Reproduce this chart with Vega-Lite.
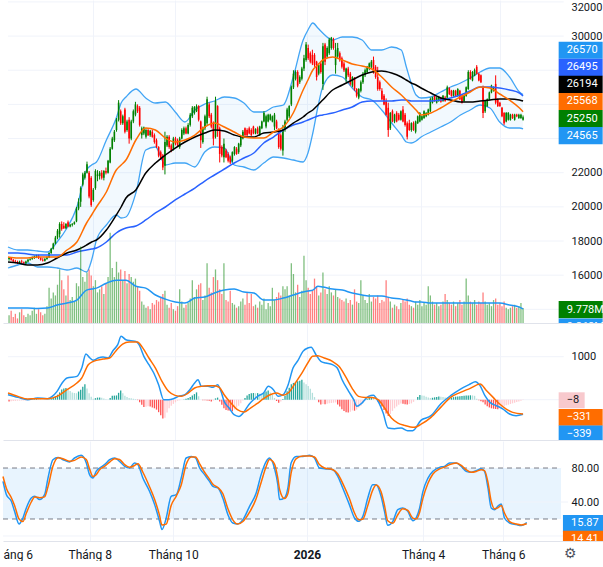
{
  "$schema": "https://vega.github.io/schema/vega-lite/v6.json",
  "padding": 0,
  "background": "#ffffff",
  "spacing": 1,
  "config": {
    "view": {"stroke": null},
    "font": "Roboto"
  },
  "datasets": {
    "candles": [
      {"i":0,"o":16950,"h":17050,"l":16850,"c":17000,"v":5,"mh":-39},
      {"i":1,"o":17000,"h":17050,"l":16850,"c":16900,"v":8,"mh":-35},
      {"i":2,"o":16900,"h":16950,"l":16750,"c":16800,"v":4,"mh":-30},
      {"i":3,"o":16800,"h":16900,"l":16700,"c":16750,"v":6,"mh":-28},
      {"i":4,"o":16750,"h":16850,"l":16650,"c":16700,"v":3,"mh":-24},
      {"i":5,"o":16700,"h":16850,"l":16650,"c":16800,"v":7,"mh":-22},
      {"i":6,"o":16800,"h":16900,"l":16700,"c":16750,"v":9,"mh":-20},
      {"i":7,"o":16750,"h":16800,"l":16600,"c":16700,"v":5,"mh":-18},
      {"i":8,"o":16700,"h":16850,"l":16650,"c":16800,"v":4,"mh":-16},
      {"i":9,"o":16800,"h":16950,"l":16750,"c":16900,"v":6,"mh":-14},
      {"i":10,"o":16900,"h":17000,"l":16850,"c":16950,"v":5,"mh":-5},
      {"i":11,"o":16950,"h":17100,"l":16900,"c":17050,"v":8,"mh":5},
      {"i":12,"o":17050,"h":17150,"l":16950,"c":17100,"v":10,"mh":12},
      {"i":13,"o":17100,"h":17200,"l":17000,"c":17150,"v":6,"mh":16},
      {"i":14,"o":17150,"h":17200,"l":16950,"c":17000,"v":9,"mh":12},
      {"i":15,"o":17000,"h":17050,"l":16850,"c":16900,"v":7,"mh":8},
      {"i":16,"o":16900,"h":17000,"l":16800,"c":16850,"v":5,"mh":4},
      {"i":17,"o":16850,"h":17000,"l":16800,"c":16950,"v":6,"mh":2},
      {"i":18,"o":16950,"h":17100,"l":16900,"c":17050,"v":11,"mh":0},
      {"i":19,"o":17050,"h":17350,"l":17000,"c":17300,"v":23,"mh":10},
      {"i":20,"o":17300,"h":17600,"l":17250,"c":17550,"v":16,"mh":28},
      {"i":21,"o":17550,"h":17900,"l":17500,"c":17850,"v":20,"mh":50},
      {"i":22,"o":17850,"h":18300,"l":17800,"c":18200,"v":18,"mh":80},
      {"i":23,"o":18200,"h":18700,"l":18100,"c":18600,"v":25,"mh":116},
      {"i":24,"o":18400,"h":19100,"l":18200,"c":19000,"v":35,"mh":170},
      {"i":25,"o":19000,"h":19150,"l":18600,"c":18700,"v":28,"mh":238},
      {"i":26,"o":18900,"h":19100,"l":18700,"c":18750,"v":22,"mh":260},
      {"i":27,"o":18750,"h":19050,"l":18700,"c":19000,"v":18,"mh":271},
      {"i":28,"o":19100,"h":19200,"l":18800,"c":18850,"v":31,"mh":240},
      {"i":29,"o":18850,"h":19000,"l":18800,"c":18950,"v":15,"mh":200},
      {"i":30,"o":18950,"h":19050,"l":18850,"c":19000,"v":17,"mh":170},
      {"i":31,"o":19000,"h":19150,"l":18950,"c":19100,"v":14,"mh":155},
      {"i":32,"o":19150,"h":20000,"l":19100,"c":19900,"v":26,"mh":150},
      {"i":33,"o":19900,"h":20500,"l":19800,"c":20300,"v":24,"mh":190},
      {"i":34,"o":20300,"h":21200,"l":20000,"c":21100,"v":50,"mh":232},
      {"i":35,"o":21300,"h":22000,"l":21200,"c":21900,"v":30,"mh":300},
      {"i":36,"o":21700,"h":22100,"l":21600,"c":22000,"v":27,"mh":362},
      {"i":37,"o":22000,"h":22650,"l":21950,"c":22500,"v":33,"mh":260},
      {"i":38,"o":22000,"h":22100,"l":20500,"c":20600,"v":35,"mh":150},
      {"i":39,"o":21700,"h":21800,"l":20000,"c":20100,"v":31,"mh":70},
      {"i":40,"o":20400,"h":21100,"l":20300,"c":21000,"v":24,"mh":24},
      {"i":41,"o":21100,"h":22200,"l":21000,"c":22100,"v":28,"mh":35},
      {"i":42,"o":21800,"h":22150,"l":21500,"c":21900,"v":20,"mh":49},
      {"i":43,"o":21800,"h":22100,"l":21600,"c":22000,"v":22,"mh":50},
      {"i":44,"o":22000,"h":22150,"l":21600,"c":21700,"v":24,"mh":46},
      {"i":45,"o":21700,"h":22150,"l":21550,"c":22100,"v":19,"mh":30},
      {"i":46,"o":22100,"h":22300,"l":21900,"c":22000,"v":26,"mh":10},
      {"i":47,"o":22000,"h":22750,"l":21950,"c":22700,"v":30,"mh":4},
      {"i":48,"o":22600,"h":23500,"l":22550,"c":23400,"v":59,"mh":40},
      {"i":49,"o":23400,"h":24100,"l":23350,"c":24000,"v":36,"mh":89},
      {"i":50,"o":23900,"h":24500,"l":23800,"c":24400,"v":30,"mh":95},
      {"i":51,"o":24500,"h":25200,"l":24400,"c":25100,"v":40,"mh":99},
      {"i":52,"o":25100,"h":26250,"l":25000,"c":26100,"v":33,"mh":160},
      {"i":53,"o":25600,"h":25700,"l":24800,"c":24900,"v":35,"mh":213},
      {"i":54,"o":24900,"h":25400,"l":24800,"c":25300,"v":28,"mh":150},
      {"i":55,"o":25700,"h":25800,"l":24300,"c":24400,"v":34,"mh":90},
      {"i":56,"o":24500,"h":25100,"l":24400,"c":25000,"v":26,"mh":60},
      {"i":57,"o":25100,"h":25250,"l":23700,"c":24000,"v":32,"mh":40},
      {"i":58,"o":24000,"h":25100,"l":23900,"c":25000,"v":30,"mh":31},
      {"i":59,"o":25000,"h":25700,"l":24900,"c":25600,"v":27,"mh":20},
      {"i":60,"o":25400,"h":26150,"l":25300,"c":26000,"v":29,"mh":15},
      {"i":61,"o":25900,"h":26000,"l":25500,"c":25600,"v":24,"mh":-10},
      {"i":62,"o":25800,"h":25900,"l":24700,"c":24800,"v":21,"mh":-60},
      {"i":63,"o":24200,"h":24700,"l":24000,"c":24600,"v":14,"mh":-120},
      {"i":64,"o":24300,"h":24700,"l":24200,"c":24650,"v":12,"mh":-172},
      {"i":65,"o":24100,"h":24600,"l":24000,"c":24500,"v":10,"mh":-165},
      {"i":66,"o":24500,"h":24600,"l":24150,"c":24200,"v":11,"mh":-155},
      {"i":67,"o":24200,"h":24500,"l":24100,"c":24450,"v":9,"mh":-160},
      {"i":68,"o":24400,"h":24500,"l":24050,"c":24100,"v":13,"mh":-180},
      {"i":69,"o":24200,"h":24300,"l":23700,"c":23800,"v":12,"mh":-200},
      {"i":70,"o":23900,"h":24000,"l":23450,"c":23500,"v":15,"mh":-231},
      {"i":71,"o":23500,"h":23550,"l":22900,"c":23000,"v":14,"mh":-290},
      {"i":72,"o":23200,"h":23300,"l":22750,"c":22800,"v":17,"mh":-360},
      {"i":73,"o":23000,"h":23100,"l":22150,"c":22300,"v":19,"mh":-440},
      {"i":74,"o":22400,"h":24400,"l":21900,"c":23800,"v":21,"mh":-420},
      {"i":75,"o":23600,"h":24200,"l":23500,"c":24100,"v":12,"mh":-300},
      {"i":76,"o":24100,"h":24200,"l":23400,"c":23500,"v":10,"mh":-200},
      {"i":77,"o":23600,"h":23700,"l":23200,"c":23300,"v":13,"mh":-140},
      {"i":78,"o":23400,"h":24100,"l":23300,"c":24000,"v":9,"mh":-97},
      {"i":79,"o":24000,"h":24100,"l":23600,"c":23700,"v":8,"mh":-60},
      {"i":80,"o":23900,"h":24000,"l":23500,"c":23600,"v":11,"mh":-25},
      {"i":81,"o":23500,"h":24100,"l":23400,"c":24000,"v":22,"mh":-10},
      {"i":82,"o":24000,"h":24600,"l":23950,"c":24500,"v":14,"mh":0},
      {"i":83,"o":24300,"h":24700,"l":24200,"c":24600,"v":10,"mh":6},
      {"i":84,"o":24600,"h":24700,"l":24250,"c":24300,"v":12,"mh":20},
      {"i":85,"o":24300,"h":24900,"l":24250,"c":24800,"v":13,"mh":40},
      {"i":86,"o":24800,"h":25500,"l":24700,"c":25400,"v":16,"mh":60},
      {"i":87,"o":25300,"h":25900,"l":25200,"c":25800,"v":28,"mh":100},
      {"i":88,"o":25500,"h":25900,"l":25400,"c":25850,"v":17,"mh":130},
      {"i":89,"o":25600,"h":26000,"l":25550,"c":25900,"v":22,"mh":170},
      {"i":90,"o":25900,"h":25950,"l":25000,"c":25100,"v":25,"mh":80},
      {"i":91,"o":25000,"h":25050,"l":23450,"c":23900,"v":26,"mh":0},
      {"i":92,"o":23800,"h":24700,"l":23700,"c":24600,"v":15,"mh":-10},
      {"i":93,"o":24600,"h":25400,"l":24500,"c":25300,"v":18,"mh":-15},
      {"i":94,"o":24900,"h":26450,"l":24800,"c":26300,"v":39,"mh":-16},
      {"i":95,"o":26000,"h":26100,"l":25200,"c":25300,"v":23,"mh":-25},
      {"i":96,"o":25400,"h":25500,"l":24600,"c":24700,"v":20,"mh":-39},
      {"i":97,"o":24900,"h":25000,"l":23600,"c":24000,"v":30,"mh":-20},
      {"i":98,"o":24100,"h":26450,"l":24000,"c":26200,"v":35,"mh":30},
      {"i":99,"o":25900,"h":25950,"l":24100,"c":24500,"v":28,"mh":49},
      {"i":100,"o":24600,"h":24700,"l":22600,"c":23100,"v":22,"mh":-40},
      {"i":101,"o":23500,"h":23600,"l":22900,"c":23000,"v":19,"mh":-120},
      {"i":102,"o":22900,"h":24000,"l":22600,"c":23700,"v":39,"mh":-200},
      {"i":103,"o":23300,"h":23400,"l":22850,"c":22900,"v":15,"mh":-240},
      {"i":104,"o":23100,"h":23200,"l":22600,"c":22700,"v":14,"mh":-250},
      {"i":105,"o":22900,"h":23000,"l":22500,"c":22600,"v":21,"mh":-260},
      {"i":106,"o":22700,"h":23250,"l":22600,"c":23200,"v":13,"mh":-270},
      {"i":107,"o":23100,"h":23550,"l":23000,"c":23500,"v":12,"mh":-230},
      {"i":108,"o":23400,"h":23500,"l":23050,"c":23100,"v":10,"mh":-180},
      {"i":109,"o":23200,"h":23750,"l":23100,"c":23700,"v":11,"mh":-138},
      {"i":110,"o":23600,"h":24150,"l":23500,"c":24100,"v":14,"mh":-80},
      {"i":111,"o":24000,"h":24500,"l":23950,"c":24400,"v":16,"mh":-20},
      {"i":112,"o":24600,"h":24650,"l":24150,"c":24200,"v":12,"mh":40},
      {"i":113,"o":24500,"h":24600,"l":24150,"c":24200,"v":20,"mh":100},
      {"i":114,"o":24600,"h":24700,"l":24250,"c":24300,"v":13,"mh":130},
      {"i":115,"o":24500,"h":24600,"l":24150,"c":24200,"v":19,"mh":150},
      {"i":116,"o":24700,"h":24750,"l":24250,"c":24300,"v":11,"mh":155},
      {"i":117,"o":24300,"h":24600,"l":24250,"c":24550,"v":12,"mh":150},
      {"i":118,"o":24600,"h":24700,"l":24250,"c":24300,"v":10,"mh":153},
      {"i":119,"o":24200,"h":24750,"l":24150,"c":24700,"v":14,"mh":140},
      {"i":120,"o":24600,"h":25050,"l":24550,"c":25000,"v":12,"mh":132},
      {"i":121,"o":25000,"h":25600,"l":24950,"c":25500,"v":16,"mh":160},
      {"i":122,"o":24700,"h":25400,"l":24600,"c":25300,"v":9,"mh":190},
      {"i":123,"o":25000,"h":25450,"l":24950,"c":25400,"v":13,"mh":215},
      {"i":124,"o":25100,"h":25450,"l":25050,"c":25400,"v":11,"mh":170},
      {"i":125,"o":25000,"h":25350,"l":24950,"c":25300,"v":23,"mh":110},
      {"i":126,"o":24700,"h":25500,"l":24500,"c":25400,"v":15,"mh":40},
      {"i":127,"o":25000,"h":25100,"l":24550,"c":24600,"v":17,"mh":-30},
      {"i":128,"o":24500,"h":24600,"l":23400,"c":23500,"v":20,"mh":-72},
      {"i":129,"o":24200,"h":24300,"l":23300,"c":23400,"v":18,"mh":-40},
      {"i":130,"o":23300,"h":24800,"l":23000,"c":24500,"v":24,"mh":15},
      {"i":131,"o":24500,"h":25100,"l":24400,"c":25000,"v":22,"mh":90},
      {"i":132,"o":25100,"h":25800,"l":25000,"c":25700,"v":24,"mh":194},
      {"i":133,"o":25300,"h":25950,"l":25200,"c":25900,"v":18,"mh":280},
      {"i":134,"o":26000,"h":27100,"l":25900,"c":27000,"v":39,"mh":360},
      {"i":135,"o":27000,"h":28000,"l":26900,"c":27800,"v":32,"mh":390},
      {"i":136,"o":27500,"h":28000,"l":27400,"c":27900,"v":20,"mh":410},
      {"i":137,"o":27900,"h":28000,"l":27000,"c":27100,"v":25,"mh":427},
      {"i":138,"o":27300,"h":27700,"l":27200,"c":27600,"v":17,"mh":440},
      {"i":139,"o":27500,"h":28200,"l":27400,"c":28100,"v":21,"mh":465},
      {"i":140,"o":28100,"h":28900,"l":27950,"c":28700,"v":44,"mh":400},
      {"i":141,"o":28600,"h":29650,"l":28500,"c":29500,"v":28,"mh":360},
      {"i":142,"o":29300,"h":29500,"l":28600,"c":28700,"v":23,"mh":320},
      {"i":143,"o":29000,"h":29100,"l":28400,"c":28500,"v":19,"mh":257},
      {"i":144,"o":28900,"h":29200,"l":28300,"c":28400,"v":21,"mh":160},
      {"i":145,"o":28900,"h":29000,"l":28200,"c":28300,"v":29,"mh":60},
      {"i":146,"o":28500,"h":28550,"l":27400,"c":27600,"v":24,"mh":0},
      {"i":147,"o":27800,"h":28400,"l":27700,"c":28300,"v":18,"mh":-60},
      {"i":148,"o":28400,"h":28500,"l":27800,"c":27900,"v":20,"mh":-109},
      {"i":149,"o":27200,"h":29600,"l":26850,"c":29400,"v":33,"mh":-100},
      {"i":150,"o":29500,"h":29600,"l":28300,"c":28500,"v":22,"mh":-107},
      {"i":151,"o":28800,"h":29400,"l":28700,"c":29300,"v":19,"mh":-95},
      {"i":152,"o":29000,"h":29900,"l":28900,"c":29800,"v":24,"mh":-85},
      {"i":153,"o":29300,"h":29950,"l":29200,"c":29900,"v":20,"mh":-77},
      {"i":154,"o":29800,"h":29900,"l":29200,"c":29300,"v":18,"mh":-70},
      {"i":155,"o":28300,"h":29600,"l":27800,"c":29200,"v":22,"mh":-64},
      {"i":156,"o":28800,"h":29600,"l":28700,"c":29300,"v":17,"mh":-110},
      {"i":157,"o":29000,"h":29100,"l":28500,"c":28600,"v":16,"mh":-160},
      {"i":158,"o":28700,"h":28800,"l":28100,"c":28200,"v":15,"mh":-220},
      {"i":159,"o":28400,"h":28500,"l":27900,"c":28000,"v":14,"mh":-260},
      {"i":160,"o":27500,"h":28150,"l":27300,"c":28100,"v":16,"mh":-290},
      {"i":161,"o":28100,"h":28200,"l":27600,"c":27700,"v":13,"mh":-300},
      {"i":162,"o":27800,"h":27900,"l":27100,"c":27200,"v":15,"mh":-280},
      {"i":163,"o":27100,"h":27650,"l":27000,"c":27600,"v":12,"mh":-250},
      {"i":164,"o":27500,"h":27600,"l":26800,"c":26900,"v":22,"mh":-255},
      {"i":165,"o":26900,"h":26950,"l":26400,"c":26500,"v":14,"mh":-230},
      {"i":166,"o":26400,"h":26950,"l":26300,"c":26900,"v":13,"mh":-180},
      {"i":167,"o":26800,"h":27400,"l":26700,"c":27300,"v":28,"mh":-138},
      {"i":168,"o":27300,"h":27900,"l":27200,"c":27800,"v":18,"mh":-80},
      {"i":169,"o":27700,"h":28100,"l":27600,"c":28000,"v":15,"mh":-20},
      {"i":170,"o":27900,"h":28250,"l":27800,"c":28200,"v":13,"mh":24},
      {"i":171,"o":28100,"h":28450,"l":28000,"c":28400,"v":19,"mh":45},
      {"i":172,"o":28200,"h":28600,"l":28100,"c":28500,"v":14,"mh":61},
      {"i":173,"o":28600,"h":28800,"l":27800,"c":27900,"v":17,"mh":50},
      {"i":174,"o":28200,"h":28300,"l":27500,"c":27600,"v":16,"mh":0},
      {"i":175,"o":27600,"h":28200,"l":26800,"c":26900,"v":18,"mh":-39},
      {"i":176,"o":27300,"h":27400,"l":26800,"c":26900,"v":13,"mh":-100},
      {"i":177,"o":26800,"h":26950,"l":26250,"c":26300,"v":15,"mh":-160},
      {"i":178,"o":26500,"h":26600,"l":25950,"c":26000,"v":14,"mh":-240},
      {"i":179,"o":26200,"h":26350,"l":25350,"c":25400,"v":28,"mh":-320},
      {"i":180,"o":25800,"h":26100,"l":24100,"c":24500,"v":17,"mh":-380},
      {"i":181,"o":24600,"h":25550,"l":24500,"c":25500,"v":14,"mh":-330},
      {"i":182,"o":25600,"h":25700,"l":24950,"c":25000,"v":10,"mh":-260},
      {"i":183,"o":25000,"h":25450,"l":24900,"c":25400,"v":12,"mh":-200},
      {"i":184,"o":25500,"h":25600,"l":24950,"c":25000,"v":11,"mh":-160},
      {"i":185,"o":25400,"h":25500,"l":25050,"c":25100,"v":9,"mh":-120},
      {"i":186,"o":25100,"h":25650,"l":25050,"c":25600,"v":13,"mh":-89},
      {"i":187,"o":25700,"h":25900,"l":24950,"c":25000,"v":15,"mh":-95},
      {"i":188,"o":25400,"h":25500,"l":24700,"c":24800,"v":14,"mh":-105},
      {"i":189,"o":24900,"h":25000,"l":23950,"c":24100,"v":16,"mh":-111},
      {"i":190,"o":24900,"h":25100,"l":24450,"c":24500,"v":12,"mh":-100},
      {"i":191,"o":24500,"h":24950,"l":24400,"c":24900,"v":11,"mh":-86},
      {"i":192,"o":24900,"h":25000,"l":24450,"c":24500,"v":10,"mh":-50},
      {"i":193,"o":24400,"h":25050,"l":24300,"c":25000,"v":14,"mh":0},
      {"i":194,"o":24900,"h":25350,"l":24850,"c":25300,"v":12,"mh":60},
      {"i":195,"o":25000,"h":25550,"l":24950,"c":25500,"v":15,"mh":110},
      {"i":196,"o":25100,"h":25350,"l":25050,"c":25300,"v":11,"mh":100},
      {"i":197,"o":25200,"h":25650,"l":25150,"c":25600,"v":13,"mh":90},
      {"i":198,"o":25300,"h":25550,"l":25250,"c":25500,"v":12,"mh":70},
      {"i":199,"o":25400,"h":25750,"l":25350,"c":25700,"v":24,"mh":50},
      {"i":200,"o":25600,"h":26400,"l":25550,"c":26300,"v":18,"mh":39},
      {"i":201,"o":26100,"h":26450,"l":26050,"c":26400,"v":14,"mh":45},
      {"i":202,"o":26500,"h":26550,"l":26150,"c":26200,"v":12,"mh":55},
      {"i":203,"o":26100,"h":26450,"l":26050,"c":26400,"v":13,"mh":65},
      {"i":204,"o":26200,"h":26500,"l":26150,"c":26450,"v":11,"mh":77},
      {"i":205,"o":26400,"h":26450,"l":26100,"c":26150,"v":12,"mh":70},
      {"i":206,"o":26200,"h":26550,"l":26150,"c":26500,"v":14,"mh":60},
      {"i":207,"o":26400,"h":26500,"l":26150,"c":26200,"v":19,"mh":50},
      {"i":208,"o":26400,"h":27100,"l":26350,"c":27000,"v":15,"mh":45},
      {"i":209,"o":26950,"h":27000,"l":26550,"c":26600,"v":13,"mh":39},
      {"i":210,"o":26800,"h":26850,"l":26450,"c":26500,"v":12,"mh":50},
      {"i":211,"o":26500,"h":26850,"l":26450,"c":26800,"v":14,"mh":60},
      {"i":212,"o":26800,"h":26850,"l":26450,"c":26500,"v":11,"mh":70},
      {"i":213,"o":26500,"h":26950,"l":26450,"c":26900,"v":13,"mh":77},
      {"i":214,"o":26800,"h":26850,"l":26250,"c":26300,"v":15,"mh":80},
      {"i":215,"o":26500,"h":26550,"l":26050,"c":26100,"v":12,"mh":85},
      {"i":216,"o":26200,"h":26550,"l":26150,"c":26500,"v":14,"mh":90},
      {"i":217,"o":26500,"h":27050,"l":26450,"c":27000,"v":29,"mh":95},
      {"i":218,"o":26900,"h":28000,"l":26850,"c":27900,"v":18,"mh":100},
      {"i":219,"o":27900,"h":28000,"l":27450,"c":27500,"v":14,"mh":102},
      {"i":220,"o":27400,"h":27950,"l":27350,"c":27900,"v":13,"mh":100},
      {"i":221,"o":27700,"h":28100,"l":27650,"c":28000,"v":15,"mh":90},
      {"i":222,"o":28200,"h":28300,"l":27750,"c":27800,"v":12,"mh":20},
      {"i":223,"o":27800,"h":27850,"l":27350,"c":27400,"v":14,"mh":-10},
      {"i":224,"o":27700,"h":27750,"l":27250,"c":27300,"v":13,"mh":-35},
      {"i":225,"o":27000,"h":27100,"l":25200,"c":25500,"v":20,"mh":-60},
      {"i":226,"o":25600,"h":26250,"l":25500,"c":26200,"v":14,"mh":-110},
      {"i":227,"o":25900,"h":26350,"l":25850,"c":26300,"v":12,"mh":-150},
      {"i":228,"o":26300,"h":26750,"l":26250,"c":26700,"v":13,"mh":-180},
      {"i":229,"o":26700,"h":27150,"l":26650,"c":27100,"v":11,"mh":-200},
      {"i":230,"o":26800,"h":27050,"l":26750,"c":27000,"v":15,"mh":-210},
      {"i":231,"o":27200,"h":27700,"l":26000,"c":26100,"v":16,"mh":-217},
      {"i":232,"o":26300,"h":26350,"l":25850,"c":25900,"v":12,"mh":-220},
      {"i":233,"o":26100,"h":26150,"l":25850,"c":25900,"v":13,"mh":-200},
      {"i":234,"o":25800,"h":25850,"l":25250,"c":25300,"v":11,"mh":-170},
      {"i":235,"o":25500,"h":25550,"l":24800,"c":24900,"v":14,"mh":-150},
      {"i":236,"o":25000,"h":25550,"l":24950,"c":25500,"v":10,"mh":-130},
      {"i":237,"o":25100,"h":25550,"l":25050,"c":25500,"v":9,"mh":-115},
      {"i":238,"o":25100,"h":25450,"l":25050,"c":25400,"v":10,"mh":-100},
      {"i":239,"o":25400,"h":25450,"l":25150,"c":25200,"v":11,"mh":-85},
      {"i":240,"o":25100,"h":25450,"l":25050,"c":25400,"v":12,"mh":-70},
      {"i":241,"o":25400,"h":25450,"l":25250,"c":25300,"v":10,"mh":-55},
      {"i":242,"o":25200,"h":25450,"l":25150,"c":25400,"v":11,"mh":-40},
      {"i":243,"o":25200,"h":25450,"l":25150,"c":25400,"v":13,"mh":-25},
      {"i":244,"o":25100,"h":25350,"l":25050,"c":25250,"v":9.778,"mh":-8}
    ],
    "lines": [
      {"i":-0.5,"ma20":17064,"ma50":16772,"ma200":17298,"bbu":17650,"bbl":16420,"vma":9.8},
      {"i":4.2,"ma20":17000,"ma50":16713,"ma200":17298,"bbu":17474,"bbl":16596,"vma":9.8},
      {"i":8.8,"ma20":17005,"ma50":16596,"ma200":17240,"bbu":17474,"bbl":16713,"vma":9.8},
      {"i":13.5,"ma20":17064,"ma50":16596,"ma200":17181,"bbu":17415,"bbl":16479,"vma":9.5},
      {"i":18.2,"ma20":17064,"ma50":16713,"ma200":17181,"bbu":17357,"bbl":16479,"vma":9.8},
      {"i":22.8,"ma20":17064,"ma50":17005,"ma200":17181,"bbu":17943,"bbl":16420,"vma":11.7},
      {"i":27.5,"ma20":17474,"ma50":17298,"ma200":17181,"bbu":18763,"bbl":16303,"vma":13},
      {"i":32.2,"ma20":17943,"ma50":17474,"ma200":17357,"bbu":19992,"bbl":16420,"vma":15},
      {"i":36.8,"ma20":19055,"ma50":17767,"ma200":17474,"bbu":22158,"bbl":16186,"vma":21.5},
      {"i":39.2,"ma20":19524,"ma50":17943,"ma200":17533,"bbu":22451,"bbl":16889,"vma":22.2},
      {"i":41.5,"ma20":19992,"ma50":18060,"ma200":17591,"bbu":22627,"bbl":18060,"vma":22.8},
      {"i":46.2,"ma20":20870,"ma50":18646,"ma200":17943,"bbu":23915,"bbl":18938,"vma":26},
      {"i":50.9,"ma20":22158,"ma50":19524,"ma200":18470,"bbu":25203,"bbl":19524,"vma":28},
      {"i":53.2,"ma20":22451,"ma50":19992,"ma200":18646,"bbu":26081,"bbl":19348,"vma":28},
      {"i":55.5,"ma20":22744,"ma50":20519,"ma200":18763,"bbu":26432,"bbl":19407,"vma":28},
      {"i":60.2,"ma20":23915,"ma50":20987,"ma200":18880,"bbu":26901,"bbl":20811,"vma":24},
      {"i":64.9,"ma20":24617,"ma50":21982,"ma200":19231,"bbu":26374,"bbl":23329,"vma":22.8},
      {"i":69.5,"ma20":24500,"ma50":22568,"ma200":19641,"bbu":26081,"bbl":23505,"vma":18.3},
      {"i":74.2,"ma20":24032,"ma50":23036,"ma200":19992,"bbu":26139,"bbl":22451,"vma":15.6},
      {"i":78.9,"ma20":23797,"ma50":23446,"ma200":20402,"bbu":25554,"bbl":22568,"vma":13.7},
      {"i":83.5,"ma20":23915,"ma50":23797,"ma200":20753,"bbu":24968,"bbl":22568,"vma":13},
      {"i":88.2,"ma20":24207,"ma50":24090,"ma200":21104,"bbu":25671,"bbl":22334,"vma":16.3},
      {"i":92.9,"ma20":24676,"ma50":24324,"ma200":21514,"bbu":26022,"bbl":23212,"vma":17},
      {"i":97.5,"ma20":24910,"ma50":24500,"ma200":21865,"bbu":26198,"bbl":23505,"vma":19.6},
      {"i":102.2,"ma20":24676,"ma50":24441,"ma200":22217,"bbu":26432,"bbl":23446,"vma":21.5},
      {"i":106.9,"ma20":24383,"ma50":24207,"ma200":22568,"bbu":26374,"bbl":22451,"vma":22.2},
      {"i":111.5,"ma20":24090,"ma50":24090,"ma200":22861,"bbu":26081,"bbl":22334,"vma":20.2},
      {"i":116.2,"ma20":24032,"ma50":24090,"ma200":23153,"bbu":25554,"bbl":22158,"vma":19.6},
      {"i":120.9,"ma20":24032,"ma50":24324,"ma200":23739,"bbu":25554,"bbl":22568,"vma":15},
      {"i":125.5,"ma20":24383,"ma50":24383,"ma200":24090,"bbu":25847,"bbl":22919,"vma":15},
      {"i":130.2,"ma20":24676,"ma50":24500,"ma200":24500,"bbu":25964,"bbl":22861,"vma":16.3},
      {"i":134.9,"ma20":25495,"ma50":24910,"ma200":24793,"bbu":27603,"bbl":22744,"vma":18.3},
      {"i":139.6,"ma20":26842,"ma50":25261,"ma200":24968,"bbu":29770,"bbl":22627,"vma":20.2},
      {"i":141.9,"ma20":27428,"ma50":25495,"ma200":25085,"bbu":30355,"bbl":23153,"vma":20.9},
      {"i":144.2,"ma20":28013,"ma50":25671,"ma200":25203,"bbu":30765,"bbl":24324,"vma":21.5},
      {"i":146.6,"ma20":28306,"ma50":25964,"ma200":25320,"bbu":30472,"bbl":25847,"vma":24},
      {"i":148.9,"ma20":28599,"ma50":26256,"ma200":25378,"bbu":30179,"bbl":27018,"vma":23.5},
      {"i":153.6,"ma20":28775,"ma50":26842,"ma200":25495,"bbu":29770,"bbl":27720,"vma":22.2},
      {"i":158.2,"ma20":28599,"ma50":27135,"ma200":25671,"bbu":29945,"bbl":27603,"vma":21.5},
      {"i":162.9,"ma20":28365,"ma50":27428,"ma200":25847,"bbu":29945,"bbl":26959,"vma":19.6},
      {"i":167.6,"ma20":28248,"ma50":27720,"ma200":26139,"bbu":29770,"bbl":26432,"vma":18.3},
      {"i":172.2,"ma20":28072,"ma50":27896,"ma200":26198,"bbu":29184,"bbl":26256,"vma":17.6},
      {"i":176.9,"ma20":27603,"ma50":27955,"ma200":26198,"bbu":29184,"bbl":25671,"vma":17.6},
      {"i":181.6,"ma20":27018,"ma50":27837,"ma200":26198,"bbu":29360,"bbl":24910,"vma":16.3},
      {"i":186.2,"ma20":26549,"ma50":27603,"ma200":26256,"bbu":29184,"bbl":24207,"vma":15.6},
      {"i":188.6,"ma20":26256,"ma50":27428,"ma200":26256,"bbu":28189,"bbl":23797,"vma":15},
      {"i":190.9,"ma20":25964,"ma50":27252,"ma200":26198,"bbu":27252,"bbl":23739,"vma":14.3},
      {"i":193.2,"ma20":25671,"ma50":27135,"ma200":26198,"bbu":26549,"bbl":23856,"vma":13.7},
      {"i":195.6,"ma20":25378,"ma50":26959,"ma200":26198,"bbu":26374,"bbl":24090,"vma":13.7},
      {"i":200.2,"ma20":25495,"ma50":26666,"ma200":26198,"bbu":26432,"bbl":24383,"vma":13},
      {"i":204.9,"ma20":25788,"ma50":26374,"ma200":26256,"bbu":26725,"bbl":24676,"vma":13},
      {"i":209.6,"ma20":26139,"ma50":26256,"ma200":26374,"bbu":27018,"bbl":24968,"vma":13},
      {"i":214.3,"ma20":26432,"ma50":26139,"ma200":26549,"bbu":27252,"bbl":25378,"vma":13},
      {"i":218.9,"ma20":26725,"ma50":26139,"ma200":26783,"bbu":27545,"bbl":25671,"vma":13},
      {"i":223.6,"ma20":27018,"ma50":26198,"ma200":27018,"bbu":27896,"bbl":25964,"vma":13},
      {"i":228.3,"ma20":26959,"ma50":26256,"ma200":27018,"bbu":28130,"bbl":25788,"vma":13},
      {"i":232.9,"ma20":26608,"ma50":26315,"ma200":26959,"bbu":28130,"bbl":24968,"vma":13},
      {"i":237.6,"ma20":26256,"ma50":26315,"ma200":26842,"bbu":27603,"bbl":24617,"vma":11.7},
      {"i":242.3,"ma20":25788,"ma50":26256,"ma200":26666,"bbu":26725,"bbl":24617,"vma":10.4},
      {"i":244,"ma20":25568,"ma50":26194,"ma200":26495,"bbu":26570,"bbl":24565,"vma":9.27}
    ],
    "macd": [
      {"i":-0.5,"v":116},{"i":4.2,"v":54},{"i":8.8,"v":0},{"i":13.5,"v":39},{"i":18.2,"v":23},
      {"i":20.5,"v":78},{"i":22.8,"v":194},{"i":25.2,"v":388},{"i":27.5,"v":504},{"i":32.2,"v":543},
      {"i":34.5,"v":736},{"i":36.5,"v":1062},{"i":38.4,"v":969},{"i":40,"v":915},{"i":42.3,"v":969},
      {"i":44.6,"v":992},{"i":47,"v":969},{"i":49.3,"v":1139},{"i":51.6,"v":1279},{"i":53.2,"v":1473},
      {"i":55.5,"v":1395},{"i":57.8,"v":1372},{"i":60.2,"v":1356},{"i":61.7,"v":1279},{"i":64,"v":1008},
      {"i":66.4,"v":814},{"i":68.7,"v":620},{"i":71,"v":349},{"i":73.4,"v":0},{"i":75.7,"v":0},
      {"i":78,"v":23},{"i":80.4,"v":78},{"i":83.5,"v":116},{"i":85.8,"v":233},{"i":88.1,"v":388},
      {"i":89.7,"v":465},{"i":91.3,"v":310},{"i":94.4,"v":310},{"i":96.7,"v":287},{"i":99,"v":349},
      {"i":100.6,"v":194},{"i":102.1,"v":-39},{"i":104.5,"v":-194},{"i":106.8,"v":-349},{"i":109.1,"v":-388},
      {"i":111.5,"v":-287},{"i":113.8,"v":-116},{"i":116.1,"v":0},{"i":118.5,"v":93},{"i":120.8,"v":155},
      {"i":123.1,"v":310},{"i":125.5,"v":233},{"i":127.8,"v":78},{"i":130.1,"v":116},{"i":132.5,"v":349},
      {"i":134.8,"v":736},{"i":137.1,"v":907},{"i":139.5,"v":1124},{"i":141.8,"v":1201},{"i":143.4,"v":1217},
      {"i":145.7,"v":1046},{"i":148,"v":891},{"i":150.4,"v":853},{"i":153.5,"v":814},{"i":155.8,"v":736},
      {"i":158.1,"v":465},{"i":161.2,"v":194},{"i":163.6,"v":0},{"i":165.1,"v":-155},{"i":167.5,"v":-78},
      {"i":170.6,"v":78},{"i":172.9,"v":101},{"i":175.2,"v":-39},{"i":177.6,"v":-310},{"i":179.9,"v":-659},
      {"i":183,"v":-674},{"i":186.1,"v":-659},{"i":189.2,"v":-721},{"i":191.6,"v":-721},{"i":195.5,"v":-480},
      {"i":200.3,"v":-372},{"i":204.9,"v":-101},{"i":209.6,"v":93},{"i":214.3,"v":248},{"i":218.9,"v":364},
      {"i":221.3,"v":419},{"i":223.6,"v":326},{"i":225.9,"v":93},{"i":228.3,"v":-62},{"i":231.4,"v":-140},
      {"i":234.5,"v":-217},{"i":237.6,"v":-333},{"i":240.7,"v":-372},{"i":244,"v":-339}
    ],
    "sig": [
      {"i":-0.5,"v":155},{"i":4.2,"v":78},{"i":8.8,"v":16},{"i":13.5,"v":23},{"i":18.2,"v":23},
      {"i":22.8,"v":78},{"i":27.5,"v":233},{"i":32.2,"v":388},{"i":34.5,"v":504},{"i":37.6,"v":814},
      {"i":40,"v":891},{"i":44.6,"v":946},{"i":47.7,"v":969},{"i":50.8,"v":1139},{"i":53.9,"v":1294},
      {"i":57,"v":1341},{"i":60.9,"v":1341},{"i":63.3,"v":1217},{"i":66.4,"v":969},{"i":69.5,"v":736},
      {"i":72.6,"v":426},{"i":75.7,"v":194},{"i":78.8,"v":101},{"i":81.9,"v":78},{"i":85,"v":155},
      {"i":88.1,"v":271},{"i":91.3,"v":310},{"i":94.4,"v":326},{"i":97.5,"v":326},{"i":99.8,"v":287},
      {"i":102.1,"v":116},{"i":105.3,"v":-78},{"i":108.4,"v":-233},{"i":111.5,"v":-287},{"i":114.6,"v":-194},
      {"i":117.7,"v":-93},{"i":120.8,"v":23},{"i":123.9,"v":116},{"i":127,"v":155},{"i":130.1,"v":101},
      {"i":132.5,"v":155},{"i":136.4,"v":426},{"i":139.5,"v":659},{"i":141.8,"v":853},{"i":144.1,"v":1008},
      {"i":146.5,"v":1023},{"i":149.6,"v":969},{"i":153.5,"v":891},{"i":156.6,"v":775},{"i":159.7,"v":543},
      {"i":162.8,"v":271},{"i":165.9,"v":78},{"i":169,"v":54},{"i":172.1,"v":54},{"i":175.2,"v":0},
      {"i":178.3,"v":-194},{"i":181.5,"v":-426},{"i":184.6,"v":-543},{"i":187.7,"v":-597},{"i":192.4,"v":-643},
      {"i":195.6,"v":-570},{"i":200.3,"v":-411},{"i":204.9,"v":-178},{"i":209.6,"v":54},{"i":214.3,"v":171},
      {"i":218.9,"v":264},{"i":223.6,"v":364},{"i":226.7,"v":209},{"i":229.8,"v":54},{"i":232.9,"v":-101},
      {"i":236,"v":-217},{"i":239.1,"v":-295},{"i":244,"v":-331}
    ],
    "stoch": [
      {"i":-0.5,"k":64.3,"d":70},{"i":1.1,"k":48.6,"d":56},{"i":3.4,"k":40.8,"d":45},{"i":4.9,"k":29,"d":36},
      {"i":7,"k":14.1,"d":20},{"i":8.8,"k":21.2,"d":17},{"i":10.4,"k":33,"d":27},{"i":12.7,"k":44.7,"d":40},
      {"i":14.3,"k":46.7,"d":46},{"i":16.6,"k":42.8,"d":45},{"i":18.9,"k":48.6,"d":46},{"i":20.5,"k":68.2,"d":58},
      {"i":22.8,"k":89.8,"d":82},{"i":25.2,"k":92.5,"d":92},{"i":27.5,"k":89.8,"d":91},{"i":30.6,"k":87.1,"d":88},
      {"i":32.9,"k":91.8,"d":89},{"i":36,"k":94.9,"d":93},{"i":38.4,"k":85.9,"d":90},{"i":39.9,"k":72.2,"d":79},
      {"i":41.5,"k":68.2,"d":70},{"i":43,"k":76.1,"d":72},{"i":44.6,"k":80,"d":78},{"i":46.9,"k":83.9,"d":82},
      {"i":49.3,"k":89.8,"d":87},{"i":51.6,"k":91.8,"d":91},{"i":53.9,"k":87.8,"d":90},{"i":56.3,"k":82,"d":84},
      {"i":58.6,"k":80,"d":81},{"i":60.9,"k":85.9,"d":83},{"i":62.5,"k":83.9,"d":85},{"i":64.8,"k":68.2,"d":75},
      {"i":67.9,"k":52.6,"d":58},{"i":70.3,"k":36.9,"d":43},{"i":72.6,"k":17.3,"d":24},{"i":73.7,"k":7.5,"d":13},
      {"i":75.7,"k":21.2,"d":14},{"i":78,"k":46.7,"d":36},{"i":80.4,"k":48.6,"d":47},{"i":82.7,"k":68.2,"d":60},
      {"i":85,"k":91.8,"d":84},{"i":87.4,"k":93.7,"d":93},{"i":89.4,"k":91.8,"d":93},{"i":91.3,"k":80,"d":85},
      {"i":93.6,"k":72.2,"d":75},{"i":95.9,"k":64.3,"d":67},{"i":97.5,"k":58.4,"d":61},{"i":99.8,"k":56.5,"d":57},
      {"i":102.1,"k":44.7,"d":50},{"i":104.5,"k":25.1,"d":32},{"i":106.8,"k":15.3,"d":19},{"i":109.1,"k":14.1,"d":14},
      {"i":111.5,"k":19.2,"d":17},{"i":114.6,"k":34.9,"d":28},{"i":117.7,"k":50.6,"d":44},{"i":120,"k":72.2,"d":63},
      {"i":122.4,"k":87.8,"d":82},{"i":123.9,"k":91.8,"d":90},{"i":126.2,"k":80,"d":85},{"i":127.8,"k":60.4,"d":68},
      {"i":128.6,"k":42.8,"d":55},{"i":130.9,"k":44.7,"d":44},{"i":132.5,"k":56.5,"d":50},{"i":134,"k":85.9,"d":74},
      {"i":136.4,"k":93.7,"d":91},{"i":139.5,"k":93.7,"d":94},{"i":142.6,"k":94.9,"d":94},{"i":144.9,"k":91.8,"d":93},
      {"i":147.2,"k":80,"d":84},{"i":149.6,"k":79.2,"d":80},{"i":153.5,"k":78,"d":78},{"i":155.8,"k":70.2,"d":73},
      {"i":158.1,"k":56.5,"d":62},{"i":161.2,"k":36.9,"d":44},{"i":163.6,"k":21.2,"d":27},{"i":165.6,"k":17.3,"d":19},
      {"i":167.5,"k":23.2,"d":20},{"i":169.8,"k":44.7,"d":36},{"i":172.1,"k":60.4,"d":54},{"i":173.7,"k":60.4,"d":60},
      {"i":176,"k":46.7,"d":52},{"i":177.6,"k":29,"d":36},{"i":179.1,"k":12.6,"d":18},{"i":181.5,"k":17.3,"d":15},
      {"i":183.8,"k":31,"d":25},{"i":186.1,"k":33,"d":32},{"i":188.5,"k":29,"d":30},{"i":190.8,"k":18,"d":21},
      {"i":192.5,"k":22,"d":20},{"i":194,"k":33,"d":28},{"i":195.5,"k":52,"d":44},{"i":197.9,"k":68.2,"d":62},
      {"i":200.2,"k":76.1,"d":73},{"i":203.3,"k":80.8,"d":79},{"i":205.6,"k":82,"d":81},{"i":208,"k":85.9,"d":84},
      {"i":211.1,"k":85.9,"d":86},{"i":213.4,"k":82,"d":83},{"i":215.7,"k":76.1,"d":78},{"i":218.1,"k":74.9,"d":75},
      {"i":220.4,"k":76.9,"d":76},{"i":222.7,"k":79.2,"d":78},{"i":224.3,"k":76.1,"d":77},{"i":225.9,"k":56.5,"d":63},
      {"i":227.4,"k":33,"d":41},{"i":229,"k":31,"d":32},{"i":230.5,"k":35,"d":33},{"i":232.1,"k":37.7,"d":36},
      {"i":233.6,"k":21.2,"d":27},{"i":236,"k":15.3,"d":17},{"i":239.1,"k":13.4,"d":14},{"i":241.4,"k":12.2,"d":13},
      {"i":244,"k":15.87,"d":14.41}
    ]
  },
  "vconcat": [
    {
      "width": 603,
      "height": 323,
      "layer": [
        {
          "layer": [
            {
              "data": {"values": [{"g":14000},{"g":16000},{"g":18000},{"g":20000},{"g":22000},{"g":24000},{"g":26000},{"g":28000},{"g":30000},{"g":32000}]},
              "mark": {"type": "rule", "color": "#f0f3fa", "strokeWidth": 1},
              "encoding": {
                "x": {"datum": -0.5}, "x2": {"datum": 263.3},
                "y": {"field": "g", "type": "quantitative",
                  "scale": {"domain": [13200, 32112], "nice": false, "zero": false},
                  "axis": {"orient": "right", "offset": -38, "values": [16000, 18000, 20000, 22000, 30000, 32000], "format": "d",
                    "ticks": false, "domain": false, "grid": false, "labelPadding": 3, "labelFont": "Roboto", "labelFontSize": 11,
                    "labelColor": "#131722", "labelFlush": 3, "labelOverlap": false, "labelAlign": "left", "title": null}}
              }
            },
            {
              "data": {"name": "lines"},
              "mark": {"type": "area", "color": "#2196f3", "opacity": 0.06, "interpolate": "monotone"},
              "encoding": {
                "x": {"field": "i", "type": "quantitative",
                  "scale": {"domain": [-0.5, 281], "nice": false, "zero": false},
                  "axis": {"values": [-0.5, 40, 79, 141.4, 195.6, 233], "labels": false, "ticks": false, "domain": true, "domainColor": "#e0e3eb", "grid": true,
                    "gridColor": {"condition": {"test": "datum.value < 0", "value": "transparent"}, "value": "#f0f3fa"}, "title": null}},
                "y": {"field": "bbu", "type": "quantitative"}, "y2": {"field": "bbl"}
              }
            },
            {
              "data": {"name": "lines"},
              "mark": {"type": "line", "color": "#42a5f5", "strokeWidth": 1.3, "interpolate": "monotone"},
              "encoding": {"x": {"field": "i", "type": "quantitative"}, "y": {"field": "bbu", "type": "quantitative"}}
            },
            {
              "data": {"name": "lines"},
              "mark": {"type": "line", "color": "#42a5f5", "strokeWidth": 1.3, "interpolate": "monotone"},
              "encoding": {"x": {"field": "i", "type": "quantitative"}, "y": {"field": "bbl", "type": "quantitative"}}
            },
            {
              "data": {"name": "candles"},
              "mark": {"type": "rule", "strokeWidth": 1},
              "encoding": {
                "x": {"field": "i", "type": "quantitative"},
                "y": {"field": "l", "type": "quantitative"}, "y2": {"field": "h"},
                "color": {"condition": {"test": "datum.c >= datum.o", "value": "#008000"}, "value": "#ff0000"}
              }
            },
            {
              "data": {"name": "candles"},
              "mark": {"type": "bar", "width": 1.6},
              "encoding": {
                "x": {"field": "i", "type": "quantitative"},
                "y": {"field": "o", "type": "quantitative"}, "y2": {"field": "c"},
                "color": {"condition": {"test": "datum.c >= datum.o", "value": "#008000"}, "value": "#ff0000"}
              }
            },
            {
              "data": {"name": "lines"},
              "mark": {"type": "line", "color": "#2962ff", "strokeWidth": 1.5, "interpolate": "monotone"},
              "encoding": {"x": {"field": "i", "type": "quantitative"}, "y": {"field": "ma200", "type": "quantitative"}}
            },
            {
              "data": {"name": "lines"},
              "mark": {"type": "line", "color": "#000000", "strokeWidth": 1.5, "interpolate": "monotone"},
              "encoding": {"x": {"field": "i", "type": "quantitative"}, "y": {"field": "ma50", "type": "quantitative"}}
            },
            {
              "data": {"name": "lines"},
              "mark": {"type": "line", "color": "#ff6d00", "strokeWidth": 1.5, "interpolate": "monotone"},
              "encoding": {"x": {"field": "i", "type": "quantitative"}, "y": {"field": "ma20", "type": "quantitative"}}
            },
            {
              "data": {"values": [
                {"t": "26570", "p": 29170, "s": "bbu"},
                {"t": "26495", "p": 28170, "s": "ma200"},
                {"t": "26194", "p": 27170, "s": "ma50"},
                {"t": "25568", "p": 26170, "s": "ma20"},
                {"t": "25250", "p": 25170, "s": "close"},
                {"t": "24565", "p": 24170, "s": "bbl"}
              ]},
              "layer": [
                {
                  "mark": {"type": "point", "filled": true, "opacity": 1, "size": 4, "clip": true},
                  "encoding": {
                    "x": {"datum": 260.9},
                    "y": {"field": "p", "type": "quantitative"},
                    "shape": {"value": "M0,-8.6H44V8.6H0Z"},
                    "color": {"condition": [
                      {"test": "datum.s == 'ma200'", "value": "#2962ff"},
                      {"test": "datum.s == 'ma50'", "value": "#000000"},
                      {"test": "datum.s == 'ma20'", "value": "#ff6d00"},
                      {"test": "datum.s == 'close'", "value": "#008000"}
                    ], "value": "#2196f3"}
                  }
                },
                {
                  "mark": {"type": "text", "align": "left", "baseline": "middle", "font": "Roboto", "fontSize": 11, "color": "#ffffff", "clip": true},
                  "encoding": {
                    "x": {"datum": 264.7},
                    "y": {"field": "p", "type": "quantitative"},
                    "text": {"field": "t"}
                  }
                }
              ]
            }
          ]
        },
        {
          "layer": [
            {
              "data": {"name": "candles"},
              "mark": {"type": "bar", "width": 1.3, "opacity": 0.5},
              "encoding": {
                "x": {"field": "i", "type": "quantitative"},
                "y": {"field": "v", "type": "quantitative", "scale": {"domain": [0, 211], "nice": false, "zero": false}, "axis": null},
                "y2": {"datum": 0},
                "color": {"condition": {"test": "datum.c >= datum.o", "value": "#008000"}, "value": "#ff0000"}
              }
            },
            {
              "data": {"name": "lines"},
              "mark": {"type": "line", "color": "#2196f3", "strokeWidth": 1.5, "interpolate": "monotone"},
              "encoding": {"x": {"field": "i", "type": "quantitative"}, "y": {"field": "vma", "type": "quantitative", "axis": null}}
            },
            {
              "data": {"values": [
                {"t": "9.778M", "p": 8.8, "s": "vol"},
                {"t": "9.268M", "p": -2.6, "s": "vma"}
              ]},
              "layer": [
                {
                  "mark": {"type": "point", "filled": true, "opacity": 1, "size": 4, "clip": true},
                  "encoding": {
                    "x": {"datum": 260.9},
                    "y": {"field": "p", "type": "quantitative", "scale": {"domain": [0, 211], "nice": false, "zero": false}, "axis": null},
                    "shape": {"value": "M0,-8.6H44V8.6H0Z"},
                    "color": {"condition": {"test": "datum.s == 'vol'", "value": "#008000"}, "value": "#2196f3"}
                  }
                },
                {
                  "mark": {"type": "text", "align": "left", "baseline": "middle", "font": "Roboto", "fontSize": 11, "color": "#ffffff", "clip": true},
                  "encoding": {
                    "x": {"datum": 264.7},
                    "y": {"field": "p", "type": "quantitative", "axis": null},
                    "text": {"field": "t"}
                  }
                }
              ]
            }
          ]
        }
      ],
      "resolve": {"scale": {"y": "independent"}}
    },
    {
      "width": 603,
      "height": 116,
      "layer": [
        {
          "data": {"values": [{"g": 0}, {"g": 1000}]},
          "mark": {"type": "rule", "color": "#f0f3fa", "strokeWidth": 1},
          "encoding": {
            "x": {"datum": -0.5}, "x2": {"datum": 263.3},
            "y": {"field": "g", "type": "quantitative",
              "scale": {"domain": [-937, 1760], "nice": false, "zero": false},
              "axis": {"orient": "right", "offset": -38, "values": [1000], "format": "d", "ticks": false, "domain": false, "grid": false,
                "labelPadding": 3, "labelFont": "Roboto", "labelFontSize": 11, "labelColor": "#131722", "labelAlign": "left", "labelOverlap": false, "title": null}}
          }
        },
        {
          "data": {"name": "candles"},
          "transform": [{"window": [{"op": "lag", "field": "mh", "as": "pm"}], "sort": [{"field": "i", "order": "ascending"}]}],
          "mark": {"type": "bar", "width": 1.3},
          "encoding": {
            "x": {"field": "i", "type": "quantitative",
              "scale": {"domain": [-0.5, 281], "nice": false, "zero": false},
              "axis": {"values": [-0.5, 40, 79, 141.4, 195.6, 233], "labels": false, "ticks": false, "domain": true, "domainColor": "#e0e3eb", "grid": true,
                "gridColor": {"condition": {"test": "datum.value < 0", "value": "transparent"}, "value": "#f0f3fa"}, "title": null}},
            "y": {"field": "mh", "type": "quantitative"},
            "y2": {"datum": 0},
            "color": {"condition": [
              {"test": "datum.mh >= 0 && datum.mh >= datum.pm", "value": "#26a69a"},
              {"test": "datum.mh >= 0", "value": "#b2dfdb"},
              {"test": "datum.mh < datum.pm", "value": "#ff5252"}
            ], "value": "#ffcdd2"}
          }
        },
        {
          "data": {"name": "macd"},
          "mark": {"type": "line", "color": "#2196f3", "strokeWidth": 1.5, "interpolate": "monotone"},
          "encoding": {"x": {"field": "i", "type": "quantitative"}, "y": {"field": "v", "type": "quantitative"}}
        },
        {
          "data": {"name": "sig"},
          "mark": {"type": "line", "color": "#ff6d00", "strokeWidth": 1.5, "interpolate": "monotone"},
          "encoding": {"x": {"field": "i", "type": "quantitative"}, "y": {"field": "v", "type": "quantitative"}}
        },
        {
          "data": {"values": [
            {"t": "−8", "p": -14, "s": "hist"},
            {"t": "−331", "p": -409, "s": "sig"},
            {"t": "−339", "p": -798, "s": "macd"}
          ]},
          "layer": [
            {
              "mark": {"type": "point", "filled": true, "opacity": 1, "size": 4, "clip": true},
              "encoding": {
                "x": {"datum": 260.9},
                "y": {"field": "p", "type": "quantitative"},
                "shape": {"condition": {"test": "length(datum.t) < 3", "value": "M0,-8H26V8H0Z"}, "value": "M0,-8.4H44V8.4H0Z"},
                "color": {"condition": [
                  {"test": "datum.s == 'hist'", "value": "#f8c9cd"},
                  {"test": "datum.s == 'sig'", "value": "#ff6d00"}
                ], "value": "#2196f3"}
              }
            },
            {
              "mark": {"type": "text", "align": "left", "baseline": "middle", "font": "Roboto", "fontSize": 11, "clip": true},
              "encoding": {
                "x": {"datum": 264.7},
                "y": {"field": "p", "type": "quantitative"},
                "text": {"field": "t"},
                "color": {"condition": {"test": "datum.s == 'hist'", "value": "#131722"}, "value": "#ffffff"}
              }
            }
          ]
        }
      ]
    },
    {
      "width": 603,
      "height": 100,
      "layer": [
        {
          "data": {"values": [{"b": 1}]},
          "mark": {"type": "rect", "color": "#2196f3", "opacity": 0.1},
          "encoding": {"x": {"datum": -0.5}, "x2": {"datum": 260}, "y": {"datum": 20}, "y2": {"datum": 80}}
        },
        {
          "data": {"values": [{"g": 0}, {"g": 40}]},
          "mark": {"type": "rule", "color": "#f0f3fa", "strokeWidth": 1},
          "encoding": {
            "x": {"datum": -0.5}, "x2": {"datum": 263.3},
            "y": {"field": "g", "type": "quantitative",
              "scale": {"domain": [-5.9, 111.8], "nice": false, "zero": false},
              "axis": {"orient": "right", "offset": -38, "values": [40, 80], "format": ".2f", "ticks": false, "domain": false, "grid": false,
                "labelPadding": 3, "labelFont": "Roboto", "labelFontSize": 11, "labelColor": "#131722", "labelAlign": "left", "labelOverlap": false, "title": null}}
          }
        },
        {
          "data": {"values": [{"g": 20}, {"g": 80}]},
          "mark": {"type": "rule", "color": "#787b86", "strokeWidth": 1, "strokeDash": [5, 4]},
          "encoding": {"x": {"datum": -0.5}, "x2": {"datum": 260}, "y": {"field": "g", "type": "quantitative"}}
        },
        {
          "data": {"name": "stoch"},
          "mark": {"type": "line", "color": "#2196f3", "strokeWidth": 1.5, "interpolate": "monotone"},
          "encoding": {
            "x": {"field": "i", "type": "quantitative",
              "scale": {"domain": [-0.5, 281], "nice": false, "zero": false},
              "axis": {"values": [-0.5, 40, 79, 141.4, 195.6, 233], "ticks": false, "domain": true, "domainColor": "#e0e3eb", "grid": true,
                "gridColor": {"condition": {"test": "datum.value < 0", "value": "transparent"}, "value": "#f0f3fa"},
                "labelExpr": "datum.value < 0 ? 'áng 6' : datum.value < 41 ? 'Tháng 8' : datum.value < 80 ? 'Tháng 10' : datum.value < 142 ? '2026' : datum.value < 196 ? 'Tháng 4' : 'Tháng 6'",
                "labelFont": "Roboto", "labelFontSize": 12, "labelColor": "#131722", "labelPadding": 8, "labelFlush": 1, "labelOverlap": false,
                "labelFontWeight": {"condition": {"test": "datum.value > 141 && datum.value < 142", "value": "bold"}, "value": "normal"},
                "title": null}},
            "y": {"field": "k", "type": "quantitative"}
          }
        },
        {
          "data": {"name": "stoch"},
          "mark": {"type": "line", "color": "#ff6d00", "strokeWidth": 1.5, "interpolate": "monotone"},
          "encoding": {"x": {"field": "i", "type": "quantitative"}, "y": {"field": "d", "type": "quantitative"}}
        },
        {
          "data": {"values": [
            {"t": "15.87", "p": 14.7, "s": "k"},
            {"t": "14.41", "p": -4, "s": "d"}
          ]},
          "layer": [
            {
              "mark": {"type": "point", "filled": true, "opacity": 1, "size": 4, "clip": true},
              "encoding": {
                "x": {"datum": 260.9},
                "y": {"field": "p", "type": "quantitative"},
                "shape": {"value": "M0,-8.6H44V8.6H0Z"},
                "color": {"condition": {"test": "datum.s == 'd'", "value": "#ff6d00"}, "value": "#2196f3"}
              }
            },
            {
              "mark": {"type": "text", "align": "left", "baseline": "middle", "font": "Roboto", "fontSize": 11, "color": "#ffffff", "clip": true},
              "encoding": {
                "x": {"datum": 264.7},
                "y": {"field": "p", "type": "quantitative"},
                "text": {"field": "t"}
              }
            }
          ]
        },
        {
          "data": {"values": [{"t": "⚙"}]},
          "mark": {"type": "text", "align": "center", "baseline": "middle", "font": "DejaVu Sans", "fontSize": 14, "color": "#50535e"},
          "encoding": {"x": {"datum": 264.3}, "y": {"datum": -21.2}, "text": {"field": "t"}}
        }
      ]
    }
  ]
}
